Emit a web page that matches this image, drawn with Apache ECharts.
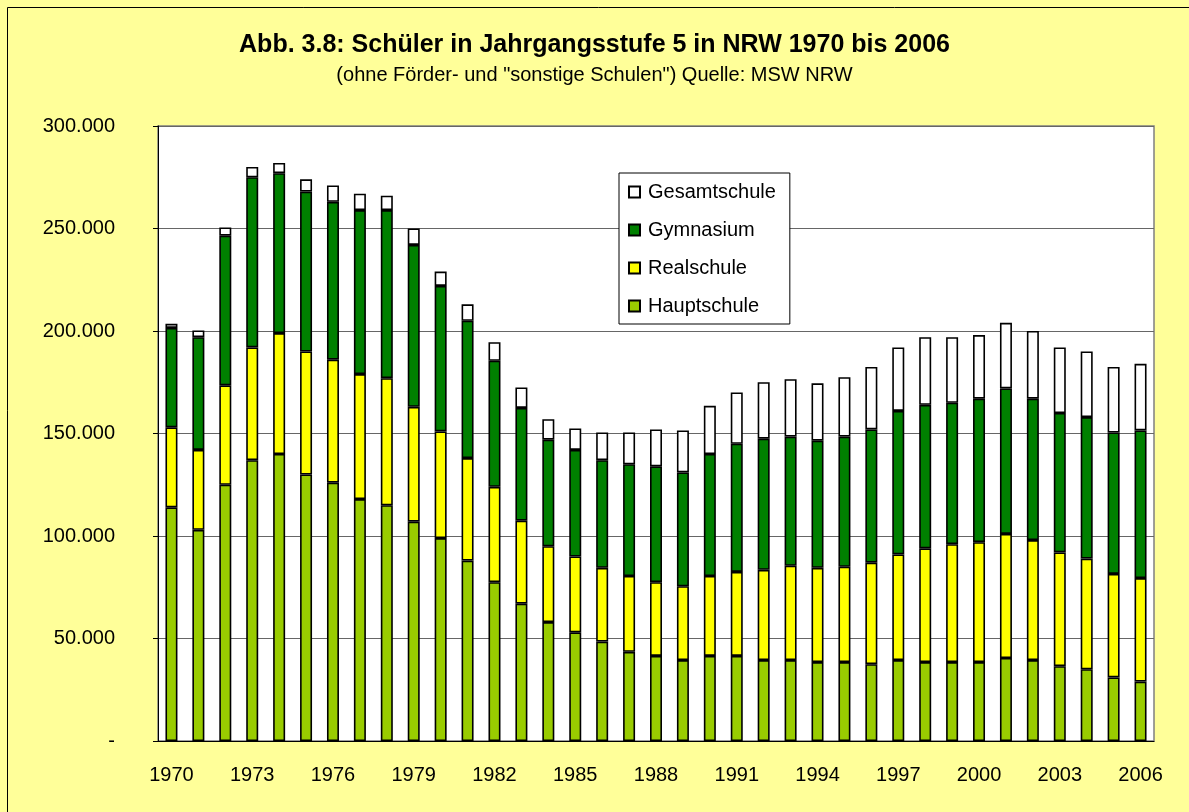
<!DOCTYPE html>
<html>
<head>
<meta charset="utf-8">
<script src="https://cdn.jsdelivr.net/npm/echarts@6/dist/echarts.min.js"></script>
<style>
  html, body { margin: 0; padding: 0; background: #FFFF99; }
  #chart { width: 1189px; height: 812px; }
</style>
</head>
<body>
<div id="chart"></div>
<script>
// Jahrgangsstufe 5, NRW, Schüler nach Schulform
const years = ['1970', '1971', '1972', '1973', '1974', '1975', '1976', '1977', '1978', '1979',
  '1980', '1981', '1982', '1983', '1984', '1985', '1986', '1987', '1988', '1989',
  '1990', '1991', '1992', '1993', '1994', '1995', '1996', '1997', '1998', '1999',
  '2000', '2001', '2002', '2003', '2004', '2005', '2006']

const hauptschule = [114000, 103000, 125000, 137000, 140000, 130000, 126000, 118000, 115000, 107000,
  99000, 88000, 77500, 67000, 58000, 53000, 48500, 43500, 41500, 39500,
  41500, 41500, 39500, 39500, 38500, 38500, 37500, 39500, 38500, 38500,
  38500, 40500, 39500, 36500, 35000, 31000, 29000]

const realschule = [39000, 39000, 48500, 55000, 59000, 60000, 60000, 61000, 62000, 56000,
  52000, 50000, 46500, 40500, 37000, 37000, 36000, 37000, 36000, 36000,
  39000, 41000, 44000, 46000, 46000, 46500, 49500, 51500, 55500, 57500,
  58500, 60500, 58500, 55500, 54000, 50500, 50500]

const gymnasium = [48500, 55000, 73000, 83000, 78000, 78000, 77000, 80000, 82000, 79000,
  71000, 67000, 61500, 55000, 52000, 52000, 52500, 54500, 56500, 55500,
  59500, 62500, 64000, 63000, 62000, 63500, 65000, 70000, 70000, 69000,
  70000, 71000, 69000, 68000, 69000, 69000, 72000]

const gesamtschule = [2000, 3300, 4000, 5000, 5000, 6000, 8000, 8000, 7000, 8000,
  7000, 8000, 9000, 10000, 10000, 10500, 13500, 15500, 18000, 20500,
  23500, 25000, 27500, 28000, 28000, 29000, 30500, 31000, 33000, 32000,
  31000, 32000, 33000, 32000, 32000, 32000, 32500]

const chart = echarts.init(document.getElementById('chart'))

const font = 'Liberation Sans, Arial, sans-serif'

function makeSeries (name, data, color) {
  return {
    name: name,
    type: 'bar',
    stack: 'total',
    barWidth: 12,
    data: data,
    itemStyle: { color: color, borderColor: '#000', borderWidth: 1.6 },
  }
}

const option = {
  backgroundColor: '#FFFF99',
  animation: false,
  textStyle: { fontFamily: font },
  title: {
    text: 'Abb. 3.8: Schüler in Jahrgangsstufe 5 in NRW 1970 bis 2006',
    subtext: '(ohne Förder- und "sonstige Schulen") Quelle: MSW NRW',
    left: 'center',
    top: 28,
    itemGap: 7,
    textStyle: { fontFamily: font, fontSize: 25, fontWeight: 'bold', color: '#000' },
    subtextStyle: { fontFamily: font, fontSize: 20, color: '#000' },
  },
  legend: {
    orient: 'vertical',
    left: 619,
    top: 173,
    data: ['Gesamtschule', 'Gymnasium', 'Realschule', 'Hauptschule'],
    icon: 'rect',
    itemWidth: 11,
    itemHeight: 11,
    itemGap: 18,
    padding: [9, 14, 8, 9],
    backgroundColor: '#fff',
    borderColor: '#000',
    borderWidth: 1,
    textStyle: { fontFamily: font, fontSize: 20, color: '#000', padding: [0, 0, 0, 3] },
  },
  grid: {
    left: 158,
    right: 35,
    top: 126,
    bottom: 71,
    show: true,
    backgroundColor: '#fff',
    borderColor: '#808080',
    borderWidth: 1.5,
  },
  xAxis: {
    type: 'category',
    data: years,
    axisLine: { lineStyle: { color: '#000', width: 1 } },
    axisTick: { interval: 0, length: 5, lineStyle: { color: '#000' } },
    axisLabel: { interval: 2, margin: 24, fontSize: 20, color: '#000', fontFamily: font },
  },
  yAxis: {
    type: 'value',
    min: 0,
    max: 300000,
    interval: 50000,
    axisLine: { show: true, lineStyle: { color: '#000', width: 1 } },
    axisTick: { show: true, length: 5, lineStyle: { color: '#000' } },
    splitLine: { lineStyle: { color: '#666', width: 1 } },
    axisLabel: {
      margin: 43,
      fontSize: 20,
      color: '#000',
      fontFamily: font,
      formatter: function (v) {
        if (v === 0) return '-'
        return String(v).replace(/\B(?=(\d{3})+(?!\d))/g, '.')
      },
    },
  },
  graphic: [
    {
      type: 'rect',
      shape: { x: 7.5, y: 7.5, width: 1200, height: 900 },
      style: { fill: 'none', stroke: '#000', lineWidth: 1 },
      silent: true,
    },
  ],
  series: [
    makeSeries('Hauptschule', hauptschule, '#99CC00'),
    makeSeries('Realschule', realschule, '#FFFF00'),
    makeSeries('Gymnasium', gymnasium, '#008000'),
    makeSeries('Gesamtschule', gesamtschule, '#FFFFFF'),
  ],
}

chart.setOption(option)
</script>
</body>
</html>
